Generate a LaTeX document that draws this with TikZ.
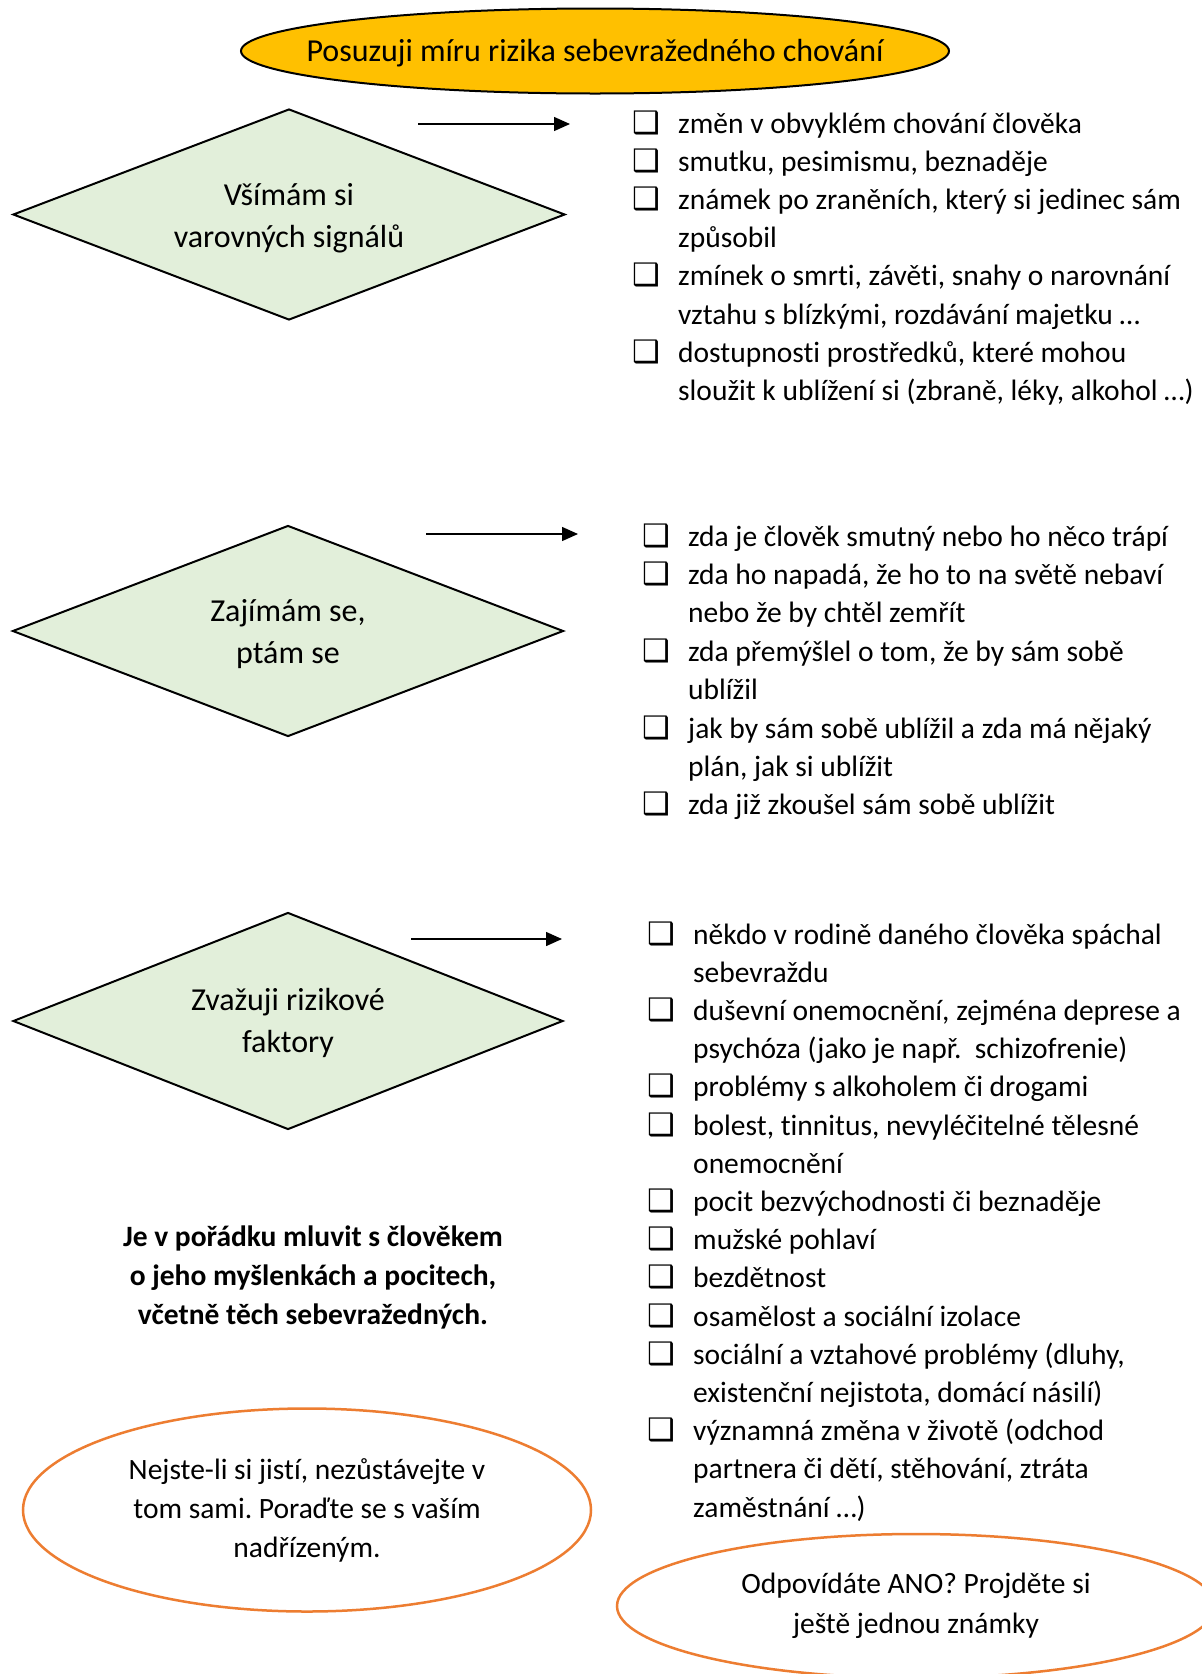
\documentclass[tikz,border=0pt]{standalone}
\usepackage{fontspec}
\setmainfont{Carlito}[RawFeature={-liga;-calt;-clig}]
\newfontfamily\symfont{DejaVu Sans}
\usetikzlibrary{shapes.geometric,arrows.meta}
\frenchspacing

\definecolor{titlefill}{HTML}{FFC000}
\definecolor{stepfill}{HTML}{E2EFDA}
\definecolor{noteline}{HTML}{ED7D31}

% checkbox bullet and the matching indent for continuation lines
\newcommand{\chk}{\makebox[46pt][l]{{\symfont\bfseries\fontsize{31}{31}\selectfont ❑}}}
\newcommand{\nochk}{\hspace*{46pt}}
% evens out the height of the first line of a step label
\newcommand{\topstrut}{\rule{0pt}{28.5pt}}

\begin{document}
\begin{tikzpicture}[x=1pt,y=-1pt,
  every node/.style={font=\fontsize{29.5}{38}\selectfont, inner sep=0pt},
  stepbox/.style={diamond, aspect=2.6, draw, line width=2pt, fill=stepfill, align=center,
    font=\fontsize{32}{42}\selectfont},
  titlebox/.style={ellipse, draw, line width=2pt, fill=titlefill,
    minimum width=708pt, minimum height=85pt, inner xsep=-60pt,
    text height=21pt, text depth=0pt, font=\fontsize{32}{38}\selectfont},
  notebox/.style={ellipse, draw=noteline, line width=2.5pt, align=center},
  itemline/.style={anchor=base west},
  pointer/.style={line width=1.4pt, -{Triangle[length=16pt,width=14pt]}}
]
\useasboundingbox (0,0) rectangle (1202,1674);
\fill[white] (0,0) rectangle (1202,1674);
\clip (0,0) rectangle (1202,1674);

% heading
\node[titlebox] (title) at (595,51) {Posuzuji míru rizika sebevražedného chování};

% the three steps
\node[stepbox, minimum width=552pt, minimum height=211pt] (notice) at (289,214.5)
  {\topstrut Všímám si\\varovných signálů};
\node[stepbox, minimum width=551pt, minimum height=211pt] (ask) at (288,631)
  {\topstrut Zajímám se,\\ptám se};
\node[stepbox, minimum width=550pt, minimum height=217pt] (weigh) at (288,1021)
  {\rule{0pt}{27pt}Zvažuji rizikové\\faktory};

% pointers to the check lists
\coordinate (p1s) at (418,124);  \coordinate (p1e) at (570,124);
\coordinate (p2s) at (426,534);  \coordinate (p2e) at (578,534);
\coordinate (p3s) at (411,939);  \coordinate (p3e) at (562,939);
\draw[pointer] (p1s) -- (p1e);
\draw[pointer] (p2s) -- (p2e);
\draw[pointer] (p3s) -- (p3e);

% check list: warning signs
\foreach \t [count=\i] in {
  {\chk změn v obvyklém chování člověka},
  {\chk smutku, pesimismu, beznaděje},
  {\chk známek po zraněních, který si jedinec sám},
  {\nochk způsobil},
  {\chk zmínek o smrti, závěti, snahy o narovnání},
  {\nochk vztahu s blízkými, rozdávání majetku …},
  {\chk dostupnosti prostředků, které mohou},
  {\nochk sloužit k ublížení si (zbraně, léky, alkohol …)}}
  \node[itemline] (sign\i) at (632,{133+38.2*(\i-1)}) {\t};

% check list: questions
\foreach \t [count=\i] in {
  {\chk zda je člověk smutný nebo ho něco trápí},
  {\chk zda ho napadá, že ho to na světě nebaví},
  {\nochk nebo že by chtěl zemřít},
  {\chk zda přemýšlel o tom, že by sám sobě},
  {\nochk ublížil},
  {\chk jak by sám sobě ublížil a zda má nějaký},
  {\nochk plán, jak si ublížit},
  {\chk zda již zkoušel sám sobě ublížit}}
  \node[itemline] (quest\i) at (642,{546+38.4*(\i-1)}) {\t};

% check list: risk factors
\foreach \t [count=\i] in {
  {\chk někdo v rodině daného člověka spáchal},
  {\nochk sebevraždu},
  {\chk duševní onemocnění, zejména deprese a},
  {\nochk psychóza (jako je např.\ \ schizofrenie)},
  {\chk problémy s alkoholem či drogami},
  {\chk bolest, tinnitus, nevyléčitelné tělesné},
  {\nochk onemocnění},
  {\chk pocit bezvýchodnosti či beznaděje},
  {\chk mužské pohlaví},
  {\chk bezdětnost},
  {\chk osamělost a sociální izolace},
  {\chk sociální a vztahové problémy (dluhy,},
  {\nochk existenční nejistota, domácí násilí)},
  {\chk významná změna v životě (odchod},
  {\nochk partnera či dětí, stěhování, ztráta},
  {\nochk zaměstnání …)}}
  \node[itemline] (risk\i) at (647,{944+38.2*(\i-1)}) {\t};

% statement
\node[align=center, font=\bfseries\fontsize{29.5}{39}\selectfont] (okay) at (313,1277)
  {Je v pořádku mluvit s člověkem\\o jeho myšlenkách a pocitech,\\včetně těch sebevražedných.};

% advice ellipses
\node[notebox, minimum width=568pt, minimum height=203pt, font=\fontsize{29.5}{39}\selectfont]
  (consult) at (307,1510) {Nejste-li si jistí, nezůstávejte v\\tom sami. Poraďte se s vaším\\nadřízeným.};
\node[notebox, minimum width=598pt, minimum height=144pt, font=\fontsize{29.5}{39.5}\selectfont]
  (recheck) at (916,1606) {Odpovídáte ANO? Projděte si\\ještě jednou známky};
\end{tikzpicture}
\end{document}
